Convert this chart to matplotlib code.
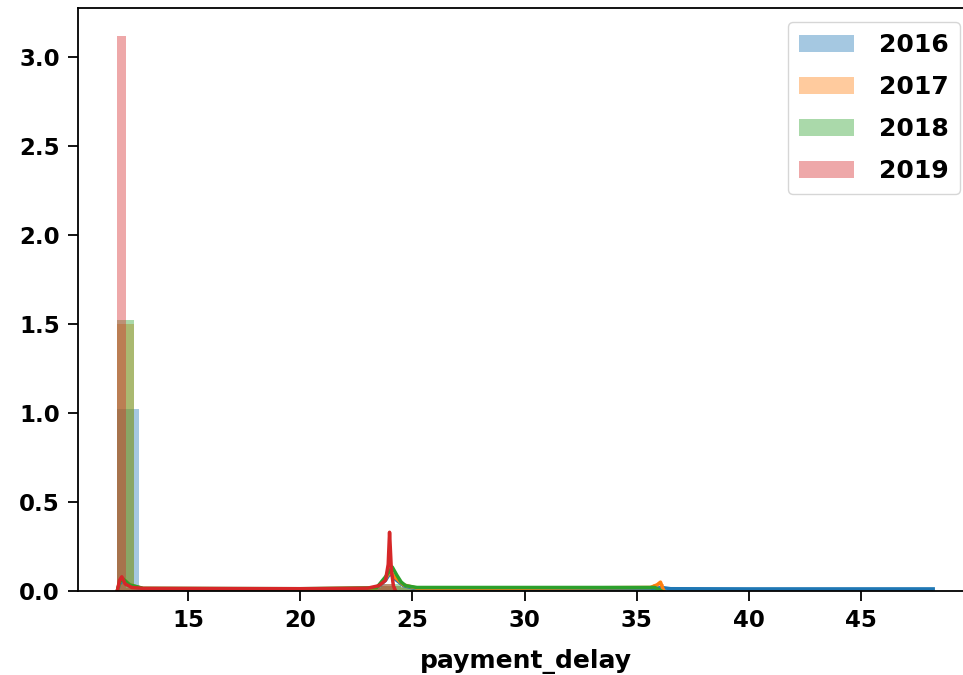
# -------------------------------
# 1. ライブラリ
# -------------------------------
import numpy as np
import matplotlib
matplotlib.use("Agg")
import matplotlib.pyplot as plt

plt.rcParams['font.family'] = ['DejaVu Sans']
plt.rcParams['font.weight'] = 'bold'
plt.rcParams['axes.labelweight'] = 'bold'

# -------------------------------
# 2. データ（年ごとのヒストグラムとKDE）
# -------------------------------
years = ["2016", "2017", "2018", "2019"]
colors = ["#1f77b4", "#ff7f0e", "#2ca02c", "#d62728"]

# ヒストグラム（ビン境界と密度）
edges_2016 = [11.83, 12.80, 23.5, 24.5, 36.0, 48.2]
dens_2016 = [1.02, 0.012, 0.03, 0.016, 0.014]
edges_2017 = [11.83, 12.58, 23.5, 24.5, 35.7, 36.2]
dens_2017 = [1.50, 0.018, 0.03, 0.022, 0.04]
edges_2018 = [11.83, 12.58, 23.5, 24.5, 36.2]
dens_2018 = [1.52, 0.018, 0.04, 0.024]
edges_2019 = [11.83, 12.23, 23.6, 24.2]
dens_2019 = [3.12, 0.018, 0.04]

# KDE曲線
kde_x_2016 = [11.85, 11.95, 12.1, 12.4, 13.0, 20.0, 23.4, 23.8, 24.0, 24.2, 24.6, 25.2, 30.0, 35.8, 36.1, 36.5, 40.0, 45.0, 48.2]
kde_y_2016 = [0.0, 0.04, 0.06, 0.03, 0.012, 0.010, 0.015, 0.06, 0.10, 0.07, 0.03, 0.012, 0.012, 0.014, 0.02, 0.013, 0.012, 0.012, 0.012]
kde_x_2017 = [11.85, 11.95, 12.1, 12.4, 13.0, 20.0, 23.4, 23.8, 24.0, 24.2, 24.6, 25.2, 30.0, 35.6, 35.9, 36.05, 36.2]
kde_y_2017 = [0.0, 0.05, 0.07, 0.035, 0.014, 0.012, 0.016, 0.07, 0.11, 0.08, 0.035, 0.016, 0.016, 0.02, 0.035, 0.05, 0.0]
kde_x_2018 = [11.85, 11.95, 12.1, 12.4, 13.0, 20.0, 23.4, 23.8, 24.1, 24.3, 24.5, 24.7, 25.2, 30.0, 35.8, 36.1]
kde_y_2018 = [0.0, 0.05, 0.07, 0.035, 0.015, 0.013, 0.018, 0.08, 0.135, 0.09, 0.05, 0.03, 0.02, 0.02, 0.02, 0.0]
kde_x_2019 = [11.85, 11.95, 12.05, 12.2, 12.5, 13.0, 20.0, 23.0, 23.5, 23.8, 23.92, 23.98, 24.06, 24.15, 24.25]
kde_y_2019 = [0.0, 0.06, 0.08, 0.04, 0.02, 0.015, 0.013, 0.016, 0.03, 0.06, 0.15, 0.33, 0.12, 0.03, 0.0]

hist_edges = [edges_2016, edges_2017, edges_2018, edges_2019]
hist_dens = [dens_2016, dens_2017, dens_2018, dens_2019]
kde_xs = [kde_x_2016, kde_x_2017, kde_x_2018, kde_x_2019]
kde_ys = [kde_y_2016, kde_y_2017, kde_y_2018, kde_y_2019]

# -------------------------------
# 3. グラフ描画
# -------------------------------
fig = plt.figure(figsize=(9.63, 6.75), dpi=100)
# 右端は画像の外まで伸ばす
ax = fig.add_axes([0.081, 0.1244, 0.930, 0.8637])

handles = []
for year, color, edges, dens, kx, ky in zip(years, colors, hist_edges, hist_dens, kde_xs, kde_ys):
    edges = np.array(edges)
    bars = ax.bar(edges[:-1], dens, width=np.diff(edges), align="edge",
                  color=color, alpha=0.4, linewidth=0, label=year)
    ax.plot(kx, ky, color=color, linewidth=2.5)
    handles.append(bars)

ax.set_xlim(10.1, 50.0)
ax.set_ylim(0, 3.275)
ax.set_xticks([15, 20, 25, 30, 35, 40, 45])
ax.set_yticks([0.0, 0.5, 1.0, 1.5, 2.0, 2.5, 3.0])
ax.set_yticklabels(["0.0", "0.5", "1.0", "1.5", "2.0", "2.5", "3.0"])
ax.tick_params(labelsize=16.5, length=7, width=1.3, pad=6)
for s in ax.spines.values():
    s.set_linewidth(1.3)

ax.set_xlabel("payment_delay", fontsize=18, labelpad=12)
ax.legend(handles=handles, labels=years, loc="upper right", fontsize=18,
          handlelength=2.2, handletextpad=1.0, borderpad=0.45, labelspacing=0.72,
          borderaxespad=0.55)

fig.savefig("out.png", dpi=100)
